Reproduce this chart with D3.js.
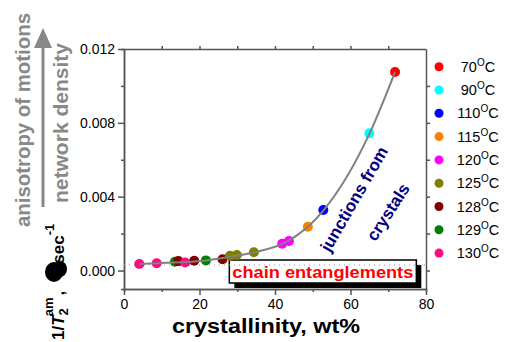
<!DOCTYPE html>
<html>
<head>
<meta charset="utf-8">
<title>crystallinity</title>
<script src="https://cdn.jsdelivr.net/npm/d3@7"></script>
<style>
    body { margin: 0; background: #fff; font-family: "Liberation Sans", Arial, sans-serif; }
    .axis path, .axis line { stroke: #555; stroke-width: 1.5; }
    .axis text { font-size: 14px; fill: #000; font-family: "Liberation Sans", Arial, sans-serif; }
</style>
</head>
<body>
<svg id="chart" width="505" height="342"></svg>
<script>
// legend: temperature -> colour
var temps = ['70', '90', '110', '115', '120', '125', '128', '129', '130'];
var tempColors = ['#ff0000', '#00ffff', '#0000ff', '#ff8000', '#ff00ff', '#808000', '#800000', '#008000', '#ff0a84'];

// measured points (crystallinity wt%, 1/T2am in 1/sec, annealing temperature)
var crystX = [4.05, 8.66, 13.5, 14.4, 16.2, 18.6, 21.7, 26.1, 28.1, 29.9, 34.4, 41.9, 43.7, 48.7, 52.8, 65.0, 71.8];
var rateY = [0.00035, 0.00039, 0.00048, 0.00051, 0.00044, 0.00053, 0.00055, 0.00061, 0.0008, 0.00084, 0.00099, 0.00145, 0.0016, 0.00237, 0.00328, 0.00743, 0.01075];
var pointTemp = ['130', '130', '129', '128', '130', '128', '129', '128', '125', '125', '125', '120', '120', '115', '110', '90', '70'];

// grey guide curve
var fitX = [4.05, 8.7, 21.7, 28.1, 34.4, 42.8, 48.7, 52.8, 65.0, 71.8];
var fitY = [0.00035, 0.0004, 0.00055, 0.00075, 0.00098, 0.00152, 0.00237, 0.00325, 0.0074, 0.01075];

var xTicks = [0, 20, 40, 60, 80], xMinor = [10, 30, 50, 70];
var yTicks = [0, 0.004, 0.008, 0.012], yMinor = [0.002, 0.006, 0.010];
var yRight = [0, 0.002, 0.004, 0.006, 0.008, 0.010];
var topTicks = [10, 20, 30, 40, 50, 60, 70];

var pLeft = 124, pRight = 426, pTop = 49, pBottom = 289;
var svg = d3.select('#chart');

var x = d3.scaleLinear().domain([0, 80]).range([pLeft, pRight]);
var y = d3.scaleLinear().domain([-0.001, 0.012]).range([pBottom, pTop]);

// axes
svg.append('g').attr('class', 'axis').attr('transform', 'translate(0,' + pBottom + ')')
   .call(d3.axisBottom(x).tickValues(xTicks).tickSize(6).tickSizeOuter(0).tickPadding(4));
svg.append('g').attr('class', 'axis').attr('transform', 'translate(0,' + pBottom + ')')
   .call(d3.axisBottom(x).tickValues(xMinor).tickSize(3).tickFormat(''));
svg.append('g').attr('class', 'axis').attr('transform', 'translate(0,' + pTop + ')')
   .call(d3.axisTop(x).tickValues(topTicks).tickSize(3).tickSizeOuter(0).tickFormat(''));
svg.append('g').attr('class', 'axis').attr('transform', 'translate(' + pLeft + ',0)')
   .call(d3.axisLeft(y).tickValues(yTicks).tickSize(6).tickSizeOuter(0).tickPadding(3).tickFormat(d3.format('.3f')));
svg.append('g').attr('class', 'axis').attr('transform', 'translate(' + pLeft + ',0)')
   .call(d3.axisLeft(y).tickValues(yMinor).tickSize(3).tickFormat(''));
svg.append('g').attr('class', 'axis').attr('transform', 'translate(' + pRight + ',0)')
   .call(d3.axisRight(y).tickValues(yRight).tickSize(4).tickSizeOuter(0).tickFormat(''));

// chain entanglements box
var bx = x(27.9), bw = 187, by = 260, bh = 23;
svg.append('rect').attr('x', bx + 5).attr('y', by + 5).attr('width', bw).attr('height', bh).attr('fill', '#000');
svg.append('rect').attr('x', bx).attr('y', by).attr('width', bw).attr('height', bh)
   .attr('fill', '#fff').attr('stroke', '#000').attr('stroke-width', 1.5);
svg.append('text').attr('x', bx + 3).attr('y', by + 18)
   .attr('font-size', 17).attr('font-weight', 'bold').attr('fill', '#ff0000')
   .attr('textLength', 181).attr('lengthAdjust', 'spacingAndGlyphs')
   .text('chain entanglements');

// dotted baseline
svg.append('line').attr('x1', x(0)).attr('x2', x(80)).attr('y1', y(0.0003)).attr('y2', y(0.0003))
   .attr('stroke', '#999').attr('stroke-width', 1).attr('stroke-dasharray', '1,4');

// points
var color = d3.scaleOrdinal().domain(temps).range(tempColors);
svg.append('g').selectAll('circle')
   .data(crystX.map(function(d, i) { return [d, rateY[i], pointTemp[i]]; }))
   .enter().append('circle')
   .attr('cx', function(d) { return x(d[0]); })
   .attr('cy', function(d) { return y(d[1]); })
   .attr('r', 5)
   .attr('fill', function(d) { return color(d[2]); });

// guide curve
var line = d3.line().x(function(d) { return x(d[0]); }).y(function(d) { return y(d[1]); })
             .curve(d3.curveMonotoneX);
svg.append('path').datum(fitX.map(function(d, i) { return [d, fitY[i]]; }))
   .attr('d', line).attr('fill', 'none').attr('stroke', '#808080').attr('stroke-width', 2);

// junctions from crystals
[['junctions from', 354, 199, 17, -60], ['crystals', 388, 212, 17, -57]].forEach(function(t) {
    svg.append('text').attr('transform', 'translate(' + t[1] + ',' + t[2] + ') rotate(' + t[4] + ')')
       .attr('text-anchor', 'middle').attr('dy', '0.35em')
       .attr('font-size', t[3]).attr('font-weight', 'bold').attr('fill', '#000080')
       .text(t[0]);
});

// legend
var lg = svg.append('g').selectAll('g').data(temps).enter().append('g')
            .attr('transform', function(d, i) { return 'translate(0,' + (66.7 + i * 23.3) + ')'; });
lg.append('circle').attr('cx', 439).attr('cy', 0).attr('r', 4.5)
  .attr('fill', function(d) { return color(d); });
var lt = lg.append('text').attr('x', 478).attr('y', 5).attr('text-anchor', 'middle').attr('font-size', 14.5);
lt.append('tspan').text(function(d) { return d; });
lt.append('tspan').attr('dy', -6).attr('font-size', 10).text('O');
lt.append('tspan').attr('dy', 6).text('C');

// x title
svg.append('text').attr('x', 266).attr('y', 333).attr('text-anchor', 'middle')
   .attr('font-size', 20).attr('font-weight', 'bold')
   .attr('textLength', 188).attr('lengthAdjust', 'spacingAndGlyphs')
   .text('crystallinity, wt%');

// y title
var yt = svg.append('text').attr('transform', 'translate(64,340) rotate(-90)')
            .attr('font-size', 17).attr('font-weight', 'bold');
yt.append('tspan').text('1/');
yt.append('tspan').attr('font-style', 'italic').text('T');
yt.append('tspan').attr('dy', 4).attr('font-size', 13).text('2');
yt.append('tspan').attr('dy', -15).attr('dx', -8).attr('font-size', 13).text('am');
yt.append('tspan').attr('dy', 11).attr('dx', 2).text(',');
yt.append('tspan').attr('dx', 27).text('sec');
yt.append('tspan').attr('dy', -10).attr('font-size', 13).text('-1');
// black blob over the comma
svg.append('ellipse').attr('cx', 54).attr('cy', 272).attr('rx', 9).attr('ry', 10).attr('fill', '#000');
svg.append('ellipse').attr('cx', 60).attr('cy', 269).attr('rx', 7).attr('ry', 8).attr('fill', '#000');

// grey arrow and labels
svg.append('line').attr('x1', 43).attr('x2', 43).attr('y1', 207).attr('y2', 44)
   .attr('stroke', '#888').attr('stroke-width', 3);
svg.append('path').attr('d', 'M43,28 L52,48 L34,48 Z').attr('fill', '#888');
svg.append('text').attr('transform', 'translate(30,227) rotate(-90)')
   .attr('font-size', 20).attr('font-weight', 'bold').attr('fill', '#888')
   .attr('textLength', 214).attr('lengthAdjust', 'spacingAndGlyphs')
   .text('anisotropy of motions');
svg.append('text').attr('transform', 'translate(68,203) rotate(-90)')
   .attr('font-size', 20).attr('font-weight', 'bold').attr('fill', '#888')
   .attr('textLength', 160).attr('lengthAdjust', 'spacingAndGlyphs')
   .text('network density');
</script>
</body>
</html>
